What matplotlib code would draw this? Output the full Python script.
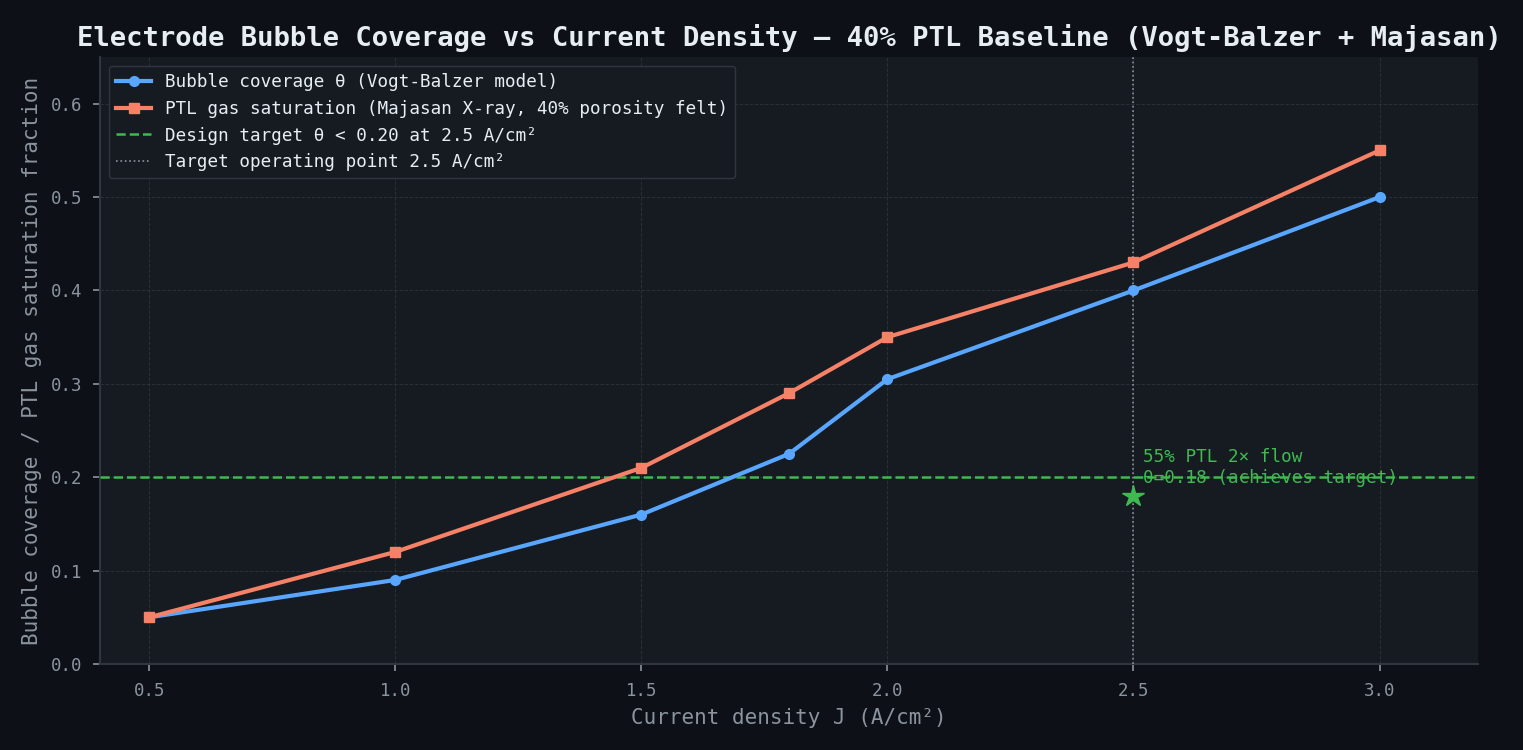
import matplotlib
matplotlib.use("Agg")
import matplotlib.pyplot as plt

# current density (A/cm2)
current_density = [0.5, 1.0, 1.5, 1.8, 2.0, 2.5, 3.0]
# bubble coverage, Vogt-Balzer model
bubble_coverage = [0.05, 0.09, 0.16, 0.225, 0.305, 0.40, 0.50]
# PTL gas saturation, Majasan X-ray
ptl_saturation = [0.05, 0.12, 0.21, 0.29, 0.35, 0.43, 0.55]

target_theta = 0.20
target_j = 2.5
alt_point = (2.5, 0.18)

BG = "#0d1117"
PANEL = "#161b22"
BLUE = "#58a6ff"
ORANGE = "#f78166"
GREEN = "#3fb950"
GREY = "#8b949e"
TEXT = "#e6edf3"

plt.rcParams['font.family'] = ['DejaVu Sans Mono', 'DejaVu Sans']

fig = plt.figure(figsize=(15.23, 7.5), dpi=100, facecolor=BG)
ax = fig.add_axes([100/1523, 1 - 664/750, 1378/1523, 607/750])
ax.set_facecolor(PANEL)

ax.plot(current_density, bubble_coverage, '-o', color=BLUE, linewidth=3, markersize=7,
        label="Bubble coverage θ (Vogt-Balzer model)", zorder=4)
ax.plot(current_density, ptl_saturation, '-s', color=ORANGE, linewidth=3, markersize=7,
        label="PTL gas saturation (Majasan X-ray, 40% porosity felt)", zorder=4)
ax.axhline(target_theta, color=GREEN, linestyle='--', linewidth=1.8,
           label="Design target θ < 0.20 at 2.5 A/cm²", zorder=3)
ax.axvline(target_j, color=GREY, linestyle=':', linewidth=1.2,
           label="Target operating point 2.5 A/cm²", zorder=3)

ax.plot(alt_point[0], alt_point[1], '*', color=GREEN, markersize=16, zorder=5)
ax.text(alt_point[0] + 0.02, 0.19, "55% PTL 2× flow\nθ=0.18 (achieves target)",
        color=GREEN, fontsize=12.7, va='bottom', ha='left', zorder=5)

ax.set_xlim(0.4, 3.2)
ax.set_ylim(0, 0.65)
ax.set_xticks([0.5, 1.0, 1.5, 2.0, 2.5, 3.0])
ax.set_yticks([0.0, 0.1, 0.2, 0.3, 0.4, 0.5, 0.6])

ax.grid(True, color="#30363d", linestyle='--', linewidth=0.7, alpha=0.8)
ax.set_axisbelow(True)
for s in ['top', 'right']:
    ax.spines[s].set_visible(False)
for s in ['bottom', 'left']:
    ax.spines[s].set_color("#30363d")
    ax.spines[s].set_linewidth(1.5)
ax.tick_params(colors=GREY, labelsize=12.5, length=5, width=1.2, pad=8)

ax.set_xlabel("Current density J (A/cm²)", color=GREY, fontsize=15, labelpad=6)
ax.set_ylabel("Bubble coverage / PTL gas saturation fraction", color=GREY, fontsize=15, labelpad=6)
ax.set_title("Electrode Bubble Coverage vs Current Density — 40% PTL Baseline (Vogt-Balzer + Majasan)",
             color=TEXT, fontsize=19.6, fontweight='bold', pad=8)

leg = ax.legend(loc='upper left', fontsize=12.7, facecolor=PANEL, edgecolor="#30363d",
                labelcolor=TEXT, framealpha=1.0)

fig.savefig("out.png", dpi=100, facecolor=BG)
